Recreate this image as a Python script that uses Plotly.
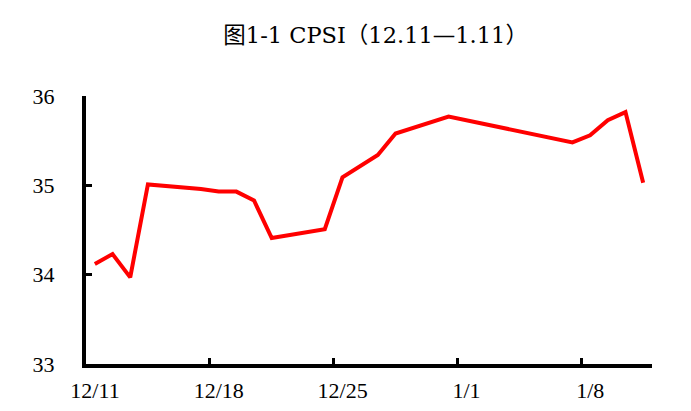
import plotly.graph_objects as go

dates = ["2018-12-11", "2018-12-12", "2018-12-13", "2018-12-14", "2018-12-17",
         "2018-12-18", "2018-12-19", "2018-12-20", "2018-12-21", "2018-12-24",
         "2018-12-25", "2018-12-26", "2018-12-27", "2018-12-28", "2018-12-31",
         "2019-01-07", "2019-01-08", "2019-01-09", "2019-01-10", "2019-01-11"]
cpsi = [34.12, 34.23, 33.97, 35.01, 34.96,
        34.93, 34.93, 34.83, 34.41, 34.51,
        35.09, 35.21, 35.34, 35.58, 35.77,
        35.48, 35.56, 35.73, 35.82, 35.03]
tick_dates = ["2018-12-11", "2018-12-18", "2018-12-25", "2019-01-01", "2019-01-08"]
tick_labels = ["12/11", "12/18", "12/25", "1/1", "1/8"]
y_ticks = [33, 34, 35, 36]
title_text = "图1-1 CPSI（12.11—1.11）"

# points are placed at the middle of each day's slot
x_pts = [d + " 12:00" for d in dates]

font_fam = "Liberation Serif, DejaVu Serif, Noto Sans CJK SC, serif"
title_fam = "DejaVu Serif, Liberation Serif, Noto Sans CJK SC, serif"

fig = go.Figure()
fig.add_trace(go.Scatter(x=x_pts, y=cpsi, mode="lines",
                         line=dict(color="#FF0000", width=4), showlegend=False))

fig.update_layout(
    width=691, height=411,
    margin=dict(l=78, r=47, t=88, b=55, autoexpand=False),
    paper_bgcolor="white", plot_bgcolor="white",
    title=dict(text=title_text, x=0.532, xanchor="center", y=0.934, yanchor="middle",
               font=dict(family=title_fam, size=22.5, color="black")),
    font=dict(family=font_fam, color="black"),
)
fig.update_xaxes(
    type="date", range=["2018-12-11", "2019-01-12"],
    tickmode="array", tickvals=tick_dates, ticktext=tick_labels,
    ticks="inside", ticklen=6, tickwidth=3, tickcolor="black",
    ticklabelshift=9, ticklabelstandoff=4, automargin=False,
    showline=True, linecolor="black", linewidth=4,
    showgrid=False, zeroline=False,
    tickfont=dict(family=font_fam, size=22, color="black"),
)
fig.update_yaxes(
    range=[33, 36], tickmode="array", tickvals=y_ticks,
    ticks="inside", ticklen=6, tickwidth=3, tickcolor="black",
    ticklabelstandoff=23, automargin=False,
    showline=True, linecolor="black", linewidth=4,
    showgrid=False, zeroline=False,
    tickfont=dict(family=font_fam, size=22, color="black"),
)
fig.write_html("out.html")
